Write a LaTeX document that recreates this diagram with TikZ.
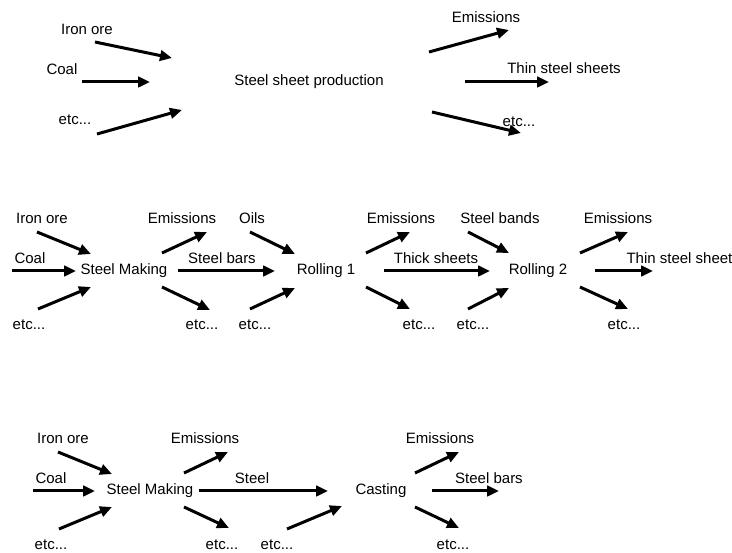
\documentclass[tikz,border=0pt]{standalone}
\usepackage{fontspec}
\setmainfont{Liberation Sans}
\usetikzlibrary{arrows.meta}

\begin{document}
\begin{tikzpicture}[x=1pt,y=-1pt,line width=3pt,>={Triangle[length=12pt,width=10.5pt]}]
	\tikzstyle{stream}=[->,draw=black]
	\tikzstyle{material}=[inner sep=0pt,font=\fontsize{15}{18}\selectfont]
	\tikzstyle{process}=[material]
	\useasboundingbox (0,0) rectangle (732,553);

	% Draw the single process view
	\node[process] (P) at (309,82) {Steel sheet production};
	\node[material] (P-in-1) at (87,29) {Iron ore};
	\node[material] (P-in-2) at (62,69) {Coal};
	\node[material] (P-in-3) at (75,120) {etc...};
	\node[material] (P-out-1) at (486,17) {Emissions};
	\node[material] (P-out-2) at (564,68) {Thin steel sheets};
	\node[material] (P-out-3) at (519,122) {etc...};

	% Draw the chain with two rolling steps
	\node[process] (SM1) at (124,271) {Steel Making};
	\node[process] (R1) at (326,271) {Rolling 1};
	\node[process] (R2) at (538,271) {Rolling 2};
	\node[material] (SM1-in-1) at (42,218) {Iron ore};
	\node[material] (SM1-in-2) at (30,258) {Coal};
	\node[material] (SM1-in-3) at (29,325) {etc...};
	\node[material] (SM1-out-1) at (182,218) {Emissions};
	\node[material] (SM1-out-2) at (222,258) {Steel bars};
	\node[material] (SM1-out-3) at (202,325) {etc...};
	\node[material] (R1-in-1) at (252,218) {Oils};
	\node[material] (R1-in-3) at (255,325) {etc...};
	\node[material] (R1-out-1) at (401,218) {Emissions};
	\node[material] (R1-out-2) at (436,258) {Thick sheets};
	\node[material] (R1-out-3) at (419,325) {etc...};
	\node[material] (R2-in-1) at (500,218) {Steel bands};
	\node[material] (R2-in-3) at (473,325) {etc...};
	\node[material] (R2-out-1) at (618,218) {Emissions};
	\node[material,anchor=west] (R2-out-2) at (625,258) {Thin steel sheet};
	\node[material] (R2-out-3) at (624,325) {etc...};

	% Draw the chain with casting
	\node[process] (SM2) at (150,491) {Steel Making};
	\node[process] (C) at (381,491) {Casting};
	\node[material] (SM2-in-1) at (63,438) {Iron ore};
	\node[material] (SM2-in-2) at (51,478) {Coal};
	\node[material] (SM2-in-3) at (51,545) {etc...};
	\node[material] (SM2-out-1) at (205,438) {Emissions};
	\node[material] (SM2-out-2) at (252,478) {Steel};
	\node[material] (SM2-out-3) at (222,545) {etc...};
	\node[material] (C-in-3) at (277,545) {etc...};
	\node[material] (C-out-1) at (440,438) {Emissions};
	\node[material] (C-out-2) at (489,478) {Steel bars};
	\node[material] (C-out-3) at (453,545) {etc...};

	% Arrows: start and end of every stream
	\foreach \i/\sx/\sy/\tx/\ty in {
		1/95/42/172/58, 2/82/82/150/82, 3/97/134/182/110,
		4/429/52/509/30, 5/465/82/549/82, 6/432/112/521/133,
		7/37/232/91/254, 8/12/271/76/271, 9/38/309/91/287,
		10/162/253/207/232, 11/178/271/275/271, 12/162/287/210/310,
		13/250/232/295/254, 14/250/309/295/288,
		15/366/253/410/232, 16/384/271/490/271, 17/366/287/410/309,
		18/468/232/509/253, 19/468/309/509/288,
		20/580/253/628/232, 21/595/271/653/271, 22/580/287/628/309,
		23/58/452/112/474, 24/33/491/95/491, 25/59/529/112/507,
		26/184/473/228/452, 27/199/491/328/491, 28/184/507/229/528,
		29/287/529/342/506,
		30/415/473/459/452, 31/432/491/499/491, 32/415/507/459/528}
	{
		\coordinate (s-\i) at (\sx,\sy);
		\coordinate (t-\i) at (\tx,\ty);
		\draw[stream] (s-\i) -- (t-\i);
	}
\end{tikzpicture}
\end{document}
